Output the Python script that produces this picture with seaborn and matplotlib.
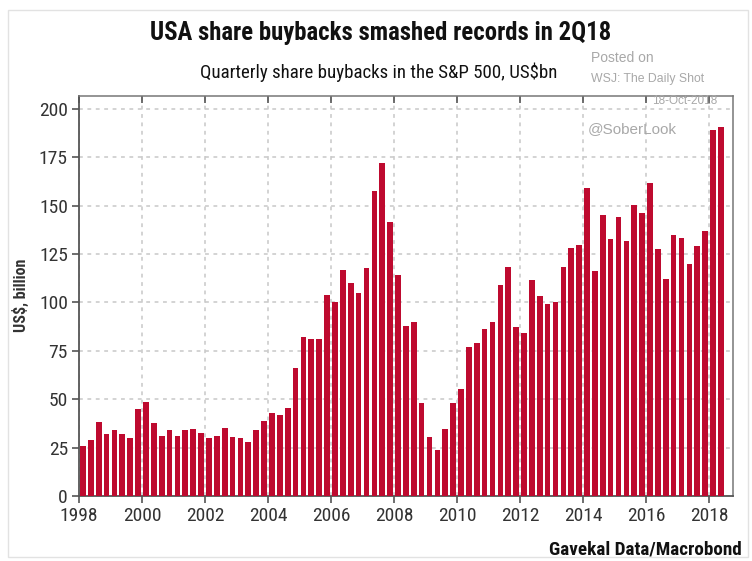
import numpy as np
import pandas as pd
import matplotlib
matplotlib.use("Agg")
import matplotlib.pyplot as plt
from matplotlib import font_manager
from matplotlib.patches import Rectangle
import seaborn as sns

# Quarterly S&P 500 buybacks, US$bn, 1Q1998 - 2Q2018
years = list(range(1998, 2019))
buybacks = [
    26, 29, 38, 32,        # 1998
    34, 32, 30, 45,        # 1999
    48.5, 37.5, 31, 34,    # 2000
    31, 34, 34.5, 32.5,    # 2001
    30, 31, 35, 30.5,      # 2002
    30, 28, 34, 38.5,      # 2003
    43, 42, 45.5, 66,      # 2004
    82, 81, 81, 104,       # 2005
    100, 116.5, 110, 105,  # 2006
    117.5, 157.5, 172, 141.5,  # 2007
    114, 88, 90, 48,       # 2008
    30.5, 24, 34.5, 48,    # 2009
    55, 77, 79, 86,        # 2010
    90, 109, 118, 87.5,    # 2011
    84, 111.5, 103.5, 99,  # 2012
    100, 118, 128, 129.5,  # 2013
    159, 116, 145, 132.5,  # 2014
    144, 131.5, 150.5, 146,  # 2015
    161.5, 127.5, 112, 135,  # 2016
    133, 120, 129, 137,    # 2017
    189, 190.5,            # 2018
]
quarters = [f"{q}Q{y}" for y in years for q in range(1, 5)][:len(buybacks)]
year_ticks = list(range(1998, 2019, 2))
y_ticks = list(range(0, 201, 25))

df = pd.DataFrame({"quarter": quarters, "buybacks": buybacks})

sns.set_theme(style="white")

# prefer a narrow face when one is installed
installed = {f.name for f in font_manager.fontManager.ttflist}
narrow = [n for n in ["Liberation Sans Narrow", "Roboto Condensed", "Open Sans Condensed",
                      "Noto Sans Display", "DejaVu Sans"] if n in installed]
plt.rcParams["font.family"] = narrow + ["DejaVu Sans"]
plt.rcParams["font.stretch"] = "condensed"

BAR = "#BE0A2F"
TXT = "#333333"
GRID = "#c8c8c8"

fig = plt.figure(figsize=(7.52, 5.61), dpi=100)
ax = fig.add_axes([79 / 752, 1 - 496 / 561, (733 - 79) / 752, (496 - 95.5) / 561])

sns.barplot(data=df, x="quarter", y="buybacks", color=BAR, saturation=1,
            width=0.72, linewidth=0, ax=ax, zorder=3)

# year ticks sit on the left edge of each year's first quarter
tick_pos = [4 * (y - 1998) - 0.5 for y in year_ticks]
ax.set_xticks(tick_pos)
ax.set_xticklabels([str(y) for y in year_ticks])
ax.set_xlim(-0.5, -0.5 + 4 * 20.76)
ax.set_ylim(0, 206.8)
ax.set_yticks(y_ticks)
ax.set_yticklabels([str(v) for v in y_ticks])

ax.set_xlabel("")
ax.set_ylabel("US$, billion", fontsize=11.5, fontweight="bold", color=TXT, labelpad=7)

ax.grid(True, axis="both", color=GRID, linestyle=(0, (2.5, 3)), linewidth=1.1, zorder=0)
ax.set_axisbelow(True)

for side in ["left", "bottom"]:
    ax.spines[side].set_color("#555555")
    ax.spines[side].set_linewidth(1.3)
for side in ["top", "right"]:
    ax.spines[side].set_color("#777777")
    ax.spines[side].set_linewidth(1.1)

ax.tick_params(axis="both", which="major", direction="out", length=5, width=1.2,
               color="#555555", labelsize=14, labelcolor=TXT, pad=3)
ax.tick_params(axis="x", top=True, labeltop=False)
for t in ax.xaxis.get_ticklines()[1::2]:
    t.set_marker(3)  # inward tick on the top spine
ax.tick_params(axis="both", left=True, bottom=True)

# titles and source
fig.text(0.506, 1 - 33 / 561, "USA share buybacks smashed records in 2Q18",
         ha="center", va="center", fontsize=17.8, fontweight="bold", color="#111111")
fig.text(0.5035, 1 - 72 / 561, "Quarterly share buybacks in the S&P 500, US$bn",
         ha="center", va="center", fontsize=13.6, color="#111111")
fig.text(742 / 752, 1 - 549 / 561, "Gavekal Data/Macrobond",
         ha="right", va="center", fontsize=13.8, fontweight="bold", color="#111111")

# reposting notes
note = dict(family=["Liberation Sans", "DejaVu Sans"], color="#a8a8a8", stretch="normal")
fig.text(591 / 752, 1 - 58 / 561, "Posted on", fontsize=10, va="center", **note)
fig.text(591 / 752, 1 - 79 / 561, "WSJ: The Daily Shot", fontsize=8.8, va="center", **note)
fig.text(652 / 752, 1 - 101 / 561, "18-Oct-2018", fontsize=8.5, va="center", **note)
fig.text(588 / 752, 1 - 129 / 561, "@SoberLook", fontsize=11, va="center", **note)

# thin frame around the whole graphic
fig.patches.append(Rectangle((8 / 752, 4 / 561), 740 / 752, 547 / 561,
                             transform=fig.transFigure, fill=False,
                             edgecolor="#e2e2e2", linewidth=1.0))

fig.savefig("out.png", dpi=100)
